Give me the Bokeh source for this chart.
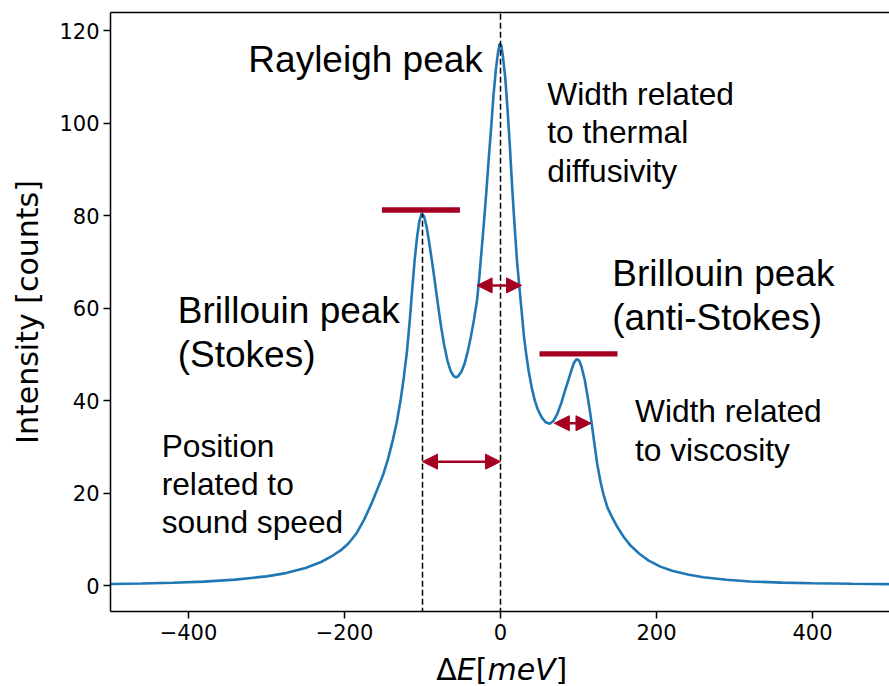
from bokeh.plotting import figure
from bokeh.layouts import column
from bokeh.models import (Label, Arrow, NormalHead, LinearAxis, FixedTicker, Range1d)
from bokeh.embed import file_html
from bokeh.resources import INLINE

# ---- spectrum ----
energy = [-500, -460, -420, -380, -340, -300, -275, -250, -230, -215, -205, -195,
          -185, -175, -166, -158, -150, -144, -138, -133, -128, -124, -120, -116,
          -113, -110, -107, -104, -101, -98, -95, -92, -88, -84, -80, -76, -72,
          -68, -64, -60, -57, -54, -50, -46, -42, -38, -34, -30, -27, -24, -21,
          -18, -15, -12, -9, -6, -3, -1, 1, 3, 6, 9, 12, 15, 18, 21, 24, 27, 30,
          33, 36, 40, 44, 48, 53, 58, 63, 68, 73, 78, 83, 87, 91, 94, 97.7, 101,
          104, 108, 112, 115, 118, 121, 124, 128, 132, 137, 143, 150, 158, 167,
          178, 190, 205, 220, 240, 260, 290, 320, 360, 400, 450, 500]
intensity = [0.35, 0.45, 0.6, 0.85, 1.3, 2.0, 2.7, 3.8, 5.1, 6.5, 7.6, 9.1,
             11.2, 14.2, 17.5, 20.8, 24.2, 27.5, 31.5, 35.3, 40.2, 45.0, 50.5, 58.0,
             64.5, 70.5, 75.3, 78.8, 80.5, 79.8, 77.8, 74.8, 70.3, 65.5, 60.5, 55.8, 51.8,
             48.6, 46.4, 45.3, 45.0, 45.3, 46.3, 48.0, 50.6, 53.8, 57.5, 61.8, 67.0, 73.0, 79.0,
             85.5, 92.5, 99.0, 106.0, 111.5, 115.5, 117.2, 116.8, 114.5, 110.0, 103.0, 95.0, 86.0, 78.0, 70.5, 64.9, 59.5, 54.0,
             50.0, 46.5, 42.8, 40.0, 38.0, 36.3, 35.3, 35.0, 35.6, 37.2, 39.5, 42.3, 44.4, 46.6, 48.1, 49.0, 48.6,
             47.2, 44.5, 40.5, 37.3, 33.7, 29.9, 26.3, 22.6, 19.7, 16.9, 14.8, 12.6, 10.5, 8.6,
             6.9, 5.4, 4.1, 3.2, 2.4, 1.8, 1.25, 0.9, 0.65, 0.5, 0.4, 0.32]

# ---- annotation values ----
dashed_x = [-100, 0]
dashed_top = [80.4, 130]
bar_x0 = [-152, 50]
bar_x1 = [-52, 150]
bar_y = [81.2, 50.1]
arrow_x0 = [-30, -100, 69]
arrow_x1 = [27, 0, 116]
arrow_y = [64.9, 26.8, 35.1]
x_ticks = [-400, -200, 0, 200, 400]
y_ticks = [0, 20, 40, 60, 80, 100, 120]

RED = "#a50021"
BLUE = "#1f77b4"

W = 889
p = figure(width=W, height=650, x_range=Range1d(-500, 498.7),
           y_range=Range1d(-5.6, 123.9), output_backend="svg",
           toolbar_location=None, min_border_left=110, min_border_right=0,
           min_border_top=12, min_border_bottom=39)
p.outline_line_color = None
p.grid.visible = False
p.background_fill_color = "white"
p.border_fill_color = "white"

for ax in (p.xaxis[0], p.yaxis[0]):
    ax.axis_line_width = 1.5
    ax.axis_line_color = "black"
    ax.major_tick_line_width = 1.5
    ax.major_tick_line_color = "black"
    ax.major_tick_out = 7
    ax.major_tick_in = 0
    ax.minor_tick_line_color = None
    ax.major_label_text_font = "DejaVu Sans"
    ax.major_label_text_font_size = "21px"
    ax.major_label_text_color = "black"

p.xaxis.ticker = FixedTicker(ticks=x_ticks)
p.xaxis.major_label_overrides = {t: (str(t).replace("-", "\u2212")) for t in x_ticks}
p.xaxis.major_label_standoff = 5
p.yaxis.ticker = FixedTicker(ticks=y_ticks)
p.yaxis.major_label_standoff = 4
p.yaxis.axis_label = "Intensity [counts]"
p.yaxis.axis_label_text_font = "DejaVu Sans"
p.yaxis.axis_label_text_font_size = "30px"
p.yaxis.axis_label_text_font_style = "normal"
p.yaxis.axis_label_text_color = "black"
p.yaxis.axis_label_standoff = 11

top = LinearAxis(ticker=FixedTicker(ticks=[]), axis_line_width=1.5,
                 axis_line_color="black", major_tick_out=0, major_tick_in=0,
                 minor_tick_out=0, minor_tick_in=0, major_label_standoff=0,
                 major_label_text_font_size="0px")
p.add_layout(top, "above")

# curve
p.line(energy, intensity, line_color=BLUE, line_width=2.6)

# dashed guides
p.segment(x0=dashed_x, y0=[-10, -10], x1=dashed_x, y1=dashed_top,
          line_color="black", line_width=1.5, line_dash="6 3")

# peak-height bars
p.segment(x0=bar_x0, y0=bar_y, x1=bar_x1, y1=bar_y, line_color=RED,
          line_width=5.3, line_cap="butt")

# arrows
for xs, xe, ya in zip(arrow_x0, arrow_x1, arrow_y):
    p.add_layout(Arrow(x_start=xs, y_start=ya, x_end=xe, y_end=ya,
                       line_color=RED, line_width=2.5,
                       start=NormalHead(size=15, fill_color=RED, line_color=RED, line_width=1),
                       end=NormalHead(size=15, fill_color=RED, line_color=RED, line_width=1)))


def txt(fig, x, y, s, size, lift, font="Liberation Sans", style="normal"):
    fig.add_layout(Label(x=x, y=y, y_offset=lift, text=s, text_font=font,
                         text_font_size=size, text_font_style=style,
                         text_color="black", text_align="left",
                         text_baseline="alphabetic"))


BIG, BL = "37px", 12
MED, ML = "31.7px", 10
txt(p, -323.3, 111.1, "Rayleigh peak", BIG, BL)
txt(p, -413.8, 56.9, "Brillouin peak", BIG, BL)
txt(p, -413.8, 47.4, "(Stokes)", BIG, BL)
txt(p, 143.3, 64.9, "Brillouin peak", BIG, BL)
txt(p, 143.3, 55.4, "(anti-Stokes)", BIG, BL)
txt(p, 60.0, 104.2, "Width related", MED, ML)
txt(p, 60.0, 95.85, "to thermal", MED, ML)
txt(p, 60.0, 87.55, "diffusivity", MED, ML)
txt(p, 172.4, 35.5, "Width related", MED, ML)
txt(p, 172.4, 27.2, "to viscosity", MED, ML)
txt(p, -434.4, 28.1, "Position", MED, ML)
txt(p, -434.4, 19.8, "related to", MED, ML)
txt(p, -434.4, 11.5, "sound speed", MED, ML)

# ---- x-axis label strip:  ΔE[meV] with italic E and meV ----
p2 = figure(width=W, height=36, x_range=p.x_range, y_range=Range1d(0, 36),
            output_backend="svg", toolbar_location=None,
            min_border_left=110, min_border_right=0, min_border_top=0,
            min_border_bottom=0)
p2.xaxis.visible = False
p2.yaxis.visible = False
p2.grid.visible = False
p2.outline_line_color = None
p2.background_fill_color = "white"
p2.border_fill_color = "white"
xl_y, XL = 6, 11.5
txt(p2, -82.4, xl_y, "\u0394", "30px", XL, font="DejaVu Sans")
txt(p2, -56.2, xl_y, "E", "30px", XL, font="DejaVu Sans", style="italic")
txt(p2, -31.8, xl_y, "[", "30px", XL, font="DejaVu Sans")
txt(p2, -16.8, xl_y, "meV", "30px", XL, font="DejaVu Sans", style="italic")
txt(p2, 70.6, xl_y, "]", "30px", XL, font="DejaVu Sans")

layout = column(p, p2, spacing=0)
open("out.html", "w").write(file_html(layout, INLINE))
